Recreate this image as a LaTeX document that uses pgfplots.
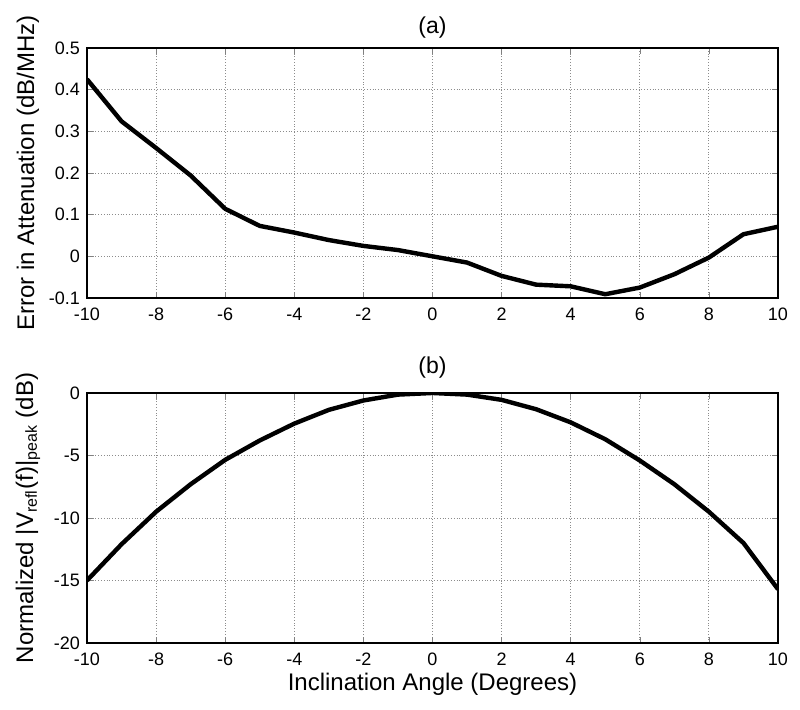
\documentclass[border=0pt]{standalone}
\usepackage{fontspec}
\setmainfont{Liberation Sans}
\usepackage{pgfplots}
\pgfplotsset{compat=1.18}

\pgfplotsset{mlab/.style={
  scale only axis, width=345.5pt, height=125pt,
  xmin=-10, xmax=10, xtick={-10,-8,...,10},
  tick align=inside, major tick length=3pt,
  grid=major, grid style={densely dotted, black!45, line width=0.4pt},
  axis line style={line width=0.6pt},
  /pgf/number format/assume math mode=true,
  tick label style={font=\fontsize{9}{10}\selectfont},
  label style={font=\fontsize{12}{14}\selectfont},
  title style={font=\fontsize{11.5}{13}\selectfont, at={(axis description cs:0.5,1)}, anchor=center},
  % rotated label: local y points left
  ylabel style={at={(axis description cs:0,0.5)}, anchor=center, yshift=29.5pt},
  xticklabel style={yshift=-1.5pt},
}}

\begin{document}
\begin{tikzpicture}
\path[use as bounding box] (-43.5pt,-33.5pt) rectangle (356.5pt,321.5pt);

\begin{axis}[mlab, at={(0,172.5pt)}, anchor=south west,
  ymin=-0.1, ymax=0.5, ytick={-0.1,0,0.1,0.2,0.3,0.4,0.5},
  title={(a)}, title style={yshift=4pt},
  ylabel={Error in Attenuation (dB/MHz)}]
\addplot[black, line width=2.2pt, line join=round] coordinates {
  (-10,0.425) (-9,0.324) (-8,0.260) (-7,0.194) (-6,0.114) (-5,0.073)
  (-4,0.057) (-3,0.039) (-2,0.025) (-1,0.015) (0,0.000) (1,-0.015)
  (2,-0.047) (3,-0.068) (4,-0.072) (5,-0.091) (6,-0.075) (7,-0.043)
  (8,-0.003) (9,0.053) (10,0.071)};
\end{axis}

\begin{axis}[mlab, at={(0,0)}, anchor=south west,
  ymin=-20, ymax=0, ytick={-20,-15,...,0},
  title={(b)}, title style={yshift=6.5pt},
  xlabel={Inclination Angle (Degrees)},
  xlabel style={at={(axis description cs:0.5,0)}, anchor=center, yshift=-20.5pt},
  ylabel={Normalized |V\textsubscript{refl}(f)|\textsubscript{peak} (dB)}]
\addplot[black, line width=2.2pt, line join=round] coordinates {
  (-10,-15.0) (-9,-12.1) (-8,-9.5) (-7,-7.3) (-6,-5.35) (-5,-3.8)
  (-4,-2.45) (-3,-1.35) (-2,-0.6) (-1,-0.13) (0,0) (1,-0.13)
  (2,-0.55) (3,-1.3) (4,-2.35) (5,-3.7) (6,-5.4) (7,-7.3)
  (8,-9.5) (9,-12.0) (10,-15.7)};
\end{axis}
\end{tikzpicture}
\end{document}
